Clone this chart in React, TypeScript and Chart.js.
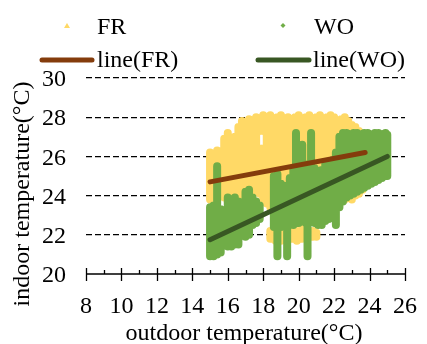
import { useEffect, useRef } from "react";
import { Chart, registerables } from "chart.js";
Chart.register(...registerables);

const FONT = "'Liberation Serif', 'Times New Roman', serif";

const xTickValues = [8, 10, 12, 14, 16, 18, 20, 22, 24, 26];
const xMinorValues = [9, 11, 13, 15, 17, 19, 21, 23, 25];
const yTickValues = [20, 22, 24, 26, 28, 30];

const legendLabels = ["FR", "WO", "line(FR)", "line(WO)"];
const xTitle = "outdoor temperature(°C)";
const yTitle = "indoor temperature(°C)";

// FR (free running) cloud: outdoor temperature and indoor temperature ranges
const frX = [15.0, 15.2, 15.4, 15.6, 15.8, 16.0, 16.2, 16.4, 16.6, 16.8, 17.0, 17.2, 17.4, 17.6, 17.8, 17.8, 18.0, 18.0, 18.2, 18.4, 18.6, 18.8, 19.0, 19.2, 19.4, 19.6, 19.8, 20.0, 20.2, 20.4, 20.6, 20.8, 21.0, 21.2, 21.4, 21.6, 21.8, 22.0, 22.2, 22.4, 22.6, 22.8, 23.0, 23.2, 23.4, 23.6, 18.4, 18.7, 19.0, 19.3, 19.6, 19.9, 20.2, 20.5, 20.8, 21.0];
const frLow = [23.8, 23.9, 24.0, 24.3, 23.9, 23.7, 23.6, 23.9, 24.1, 24.0, 24.3, 24.4, 24.2, 24.3, 24.1, 27.3, 23.8, 27.3, 23.6, 23.4, 23.3, 23.2, 23.2, 23.3, 23.2, 23.3, 23.4, 23.3, 23.4, 23.5, 23.6, 23.5, 23.6, 23.7, 23.6, 23.7, 23.8, 23.7, 23.8, 23.7, 23.8, 23.9, 23.8, 24.0, 24.1, 24.3, 21.8, 21.7, 21.7, 21.7, 21.8, 21.7, 21.8, 21.8, 21.9, 21.9];
const frHigh = [26.2, 26.0, 26.3, 26.0, 26.9, 27.2, 26.9, 27.0, 27.5, 27.8, 27.6, 27.9, 27.7, 28.0, 26.4, 27.9, 26.4, 28.1, 27.9, 28.1, 27.9, 28.0, 28.1, 27.9, 28.0, 27.8, 28.0, 28.1, 27.9, 28.0, 28.1, 27.9, 28.0, 28.1, 27.9, 28.0, 28.1, 28.0, 27.7, 27.9, 28.0, 27.8, 27.6, 27.5, 27.3, 26.9, 22.2, 22.3, 22.3, 22.2, 22.3, 22.2, 22.3, 22.2, 22.2, 22.1];

// WO (window opening) cloud
const woX = [15.0, 15.2, 15.4, 15.6, 16.0, 16.2, 16.4, 16.6, 17.0, 17.2, 17.4, 17.6, 17.8, 18.6, 18.8, 19.0, 19.2, 19.35, 19.5, 19.7, 19.85, 20.0, 20.2, 20.4, 20.5, 20.7, 20.9, 21.1, 21.3, 21.5, 21.7, 21.9, 22.1, 22.3, 22.5, 22.7, 22.9, 23.1, 23.3, 23.5, 23.7, 23.9, 24.1, 24.3, 24.5, 24.7, 24.9, 25.0];
const woLow = [20.9, 20.9, 21.0, 21.1, 21.4, 21.4, 21.5, 21.5, 21.9, 22.0, 22.5, 22.6, 22.8, 22.4, 20.9, 22.4, 22.4, 20.9, 22.6, 22.5, 22.6, 22.6, 22.7, 22.6, 20.9, 22.7, 22.6, 22.5, 22.5, 22.7, 22.8, 23.0, 22.5, 23.4, 23.7, 23.9, 24.0, 24.1, 24.2, 24.3, 24.4, 24.5, 24.6, 24.7, 24.8, 24.9, 25.0, 25.0];
const woHigh = [23.4, 23.5, 25.5, 23.3, 23.9, 23.8, 23.9, 23.7, 24.2, 24.3, 23.9, 23.7, 23.5, 25.0, 25.1, 24.6, 24.5, 22.6, 24.9, 25.4, 27.2, 25.5, 26.6, 25.6, 22.6, 27.2, 25.4, 25.2, 25.3, 25.6, 25.2, 25.8, 26.2, 27.0, 27.2, 27.2, 27.1, 27.2, 27.2, 27.1, 27.2, 27.2, 27.1, 27.2, 27.2, 27.1, 27.2, 27.1];

// linear trend lines
const frLineX = [15, 23.75];
const frLineY = [24.7, 26.2];
const woLineX = [15, 25];
const woLineY = [21.75, 26.0];

const FR_COLOR = "#FFD966";
const WO_COLOR = "#70AD47";
const FR_LINE = "#843C0C";
const WO_LINE = "#385723";

function strips(xs: number[], lo: number[], hi: number[]) {
  const out: { x: number; y: number | null }[] = [];
  xs.forEach((x, i) => {
    out.push({ x, y: lo[i] }, { x, y: hi[i] }, { x, y: null });
  });
  return out;
}

function pairs(xs: number[], ys: number[]) {
  return xs.map((x, i) => ({ x, y: ys[i] }));
}

const customDraw = {
  id: "customDraw",
  afterDraw(chart: any) {
    const ctx = chart.ctx;
    const xs = chart.scales.x;
    const ys = chart.scales.y;
    const y0 = ys.getPixelForValue(20);
    ctx.save();
    // x axis line and ticks
    ctx.strokeStyle = "#000";
    ctx.lineWidth = 1.3;
    ctx.beginPath();
    ctx.moveTo(xs.getPixelForValue(8), y0);
    ctx.lineTo(xs.getPixelForValue(26), y0);
    xTickValues.forEach((v) => {
      const px = Math.round(xs.getPixelForValue(v)) + 0.5;
      ctx.moveTo(px, y0 - 6);
      ctx.lineTo(px, y0 + 7);
    });
    xMinorValues.forEach((v) => {
      const px = Math.round(xs.getPixelForValue(v)) + 0.5;
      ctx.moveTo(px, y0 - 4);
      ctx.lineTo(px, y0);
    });
    ctx.stroke();

    // legend
    ctx.fillStyle = "#000";
    ctx.font = `24px ${FONT}`;
    ctx.textBaseline = "alphabetic";
    ctx.textAlign = "left";
    // FR marker (triangle)
    ctx.fillStyle = FR_COLOR;
    ctx.beginPath();
    ctx.moveTo(67, 23);
    ctx.lineTo(70, 28);
    ctx.lineTo(64, 28);
    ctx.closePath();
    ctx.fill();
    // WO marker (diamond)
    ctx.fillStyle = WO_COLOR;
    ctx.beginPath();
    ctx.moveTo(283, 23);
    ctx.lineTo(285.5, 25.5);
    ctx.lineTo(283, 28);
    ctx.lineTo(280.5, 25.5);
    ctx.closePath();
    ctx.fill();
    ctx.fillStyle = "#000";
    ctx.fillText(legendLabels[0], 97, 34);
    ctx.fillText(legendLabels[1], 314, 34);
    ctx.lineCap = "round";
    ctx.lineWidth = 5;
    ctx.strokeStyle = FR_LINE;
    ctx.beginPath();
    ctx.moveTo(42, 60);
    ctx.lineTo(92, 60);
    ctx.stroke();
    ctx.strokeStyle = WO_LINE;
    ctx.beginPath();
    ctx.moveTo(258, 60);
    ctx.lineTo(309, 60);
    ctx.stroke();
    ctx.fillText(legendLabels[2], 97, 67);
    ctx.fillText(legendLabels[3], 313, 67);

    // axis titles
    ctx.textAlign = "center";
    ctx.fillText(xTitle, 244, 340);
    ctx.translate(29, 194);
    ctx.rotate(-Math.PI / 2);
    ctx.fillText(yTitle, 0, 0);
    ctx.restore();
  },
};

export default function App() {
  const ref = useRef<HTMLCanvasElement | null>(null);
  useEffect(() => {
    document.body.style.margin = "0";
    if (!ref.current) return;
    Chart.defaults.font.family = FONT;
    Chart.defaults.color = "#000";
    const cloud = {
      borderWidth: 8,
      borderCapStyle: "round",
      borderJoinStyle: "round",
      pointRadius: 0,
      spanGaps: false,
      tension: 0.001,
    };
    const chart = new Chart(ref.current, {
      type: "line",
      data: {
        datasets: [
          {
            label: legendLabels[3],
            data: pairs(woLineX, woLineY),
            borderColor: WO_LINE,
            borderWidth: 5,
            borderCapStyle: "round",
            pointRadius: 0,
          },
          {
            label: legendLabels[2],
            data: pairs(frLineX, frLineY),
            borderColor: FR_LINE,
            borderWidth: 5,
            borderCapStyle: "round",
            pointRadius: 0,
          },
          { label: legendLabels[1], data: strips(woX, woLow, woHigh), borderColor: WO_COLOR, ...cloud },
          { label: legendLabels[0], data: strips(frX, frLow, frHigh), borderColor: FR_COLOR, ...cloud },
        ] as any,
      },
      options: {
        animation: false,
        responsive: false,
        events: [],
        layout: { padding: { top: 78, right: 13, left: 0, bottom: 0 } },
        plugins: { legend: { display: false }, tooltip: { enabled: false } },
        scales: {
          x: {
            type: "linear",
            min: 8,
            max: 26,
            afterBuildTicks: (s: any) => {
              s.ticks = xTickValues.map((v) => ({ value: v }));
            },
            afterFit: (s: any) => {
              s.height = 70;
            },
            ticks: { font: { size: 24, family: FONT }, color: "#000", padding: 10, maxRotation: 0, autoSkip: false },
            grid: { display: false },
            border: { display: false },
          },
          y: {
            type: "linear",
            min: 20,
            max: 30,
            afterBuildTicks: (s: any) => {
              s.ticks = yTickValues.map((v) => ({ value: v }));
            },
            afterFit: (s: any) => {
              s.width = 86;
            },
            ticks: { font: { size: 24, family: FONT }, color: "#000", padding: 20, labelOffset: 2 },
            grid: {
              drawTicks: false,
              lineWidth: 1.3,
              color: (c: any) => (c.tick && c.tick.value === 20 ? "rgba(0,0,0,0)" : "#000"),
            },
            border: { display: false, dash: [6, 3] },
          },
        },
      },
      plugins: [customDraw],
    });
    return () => chart.destroy();
  }, []);
  return (
    <div style={{ width: 427, height: 344 }}>
      <canvas ref={ref} width={427} height={344} />
    </div>
  );
}
